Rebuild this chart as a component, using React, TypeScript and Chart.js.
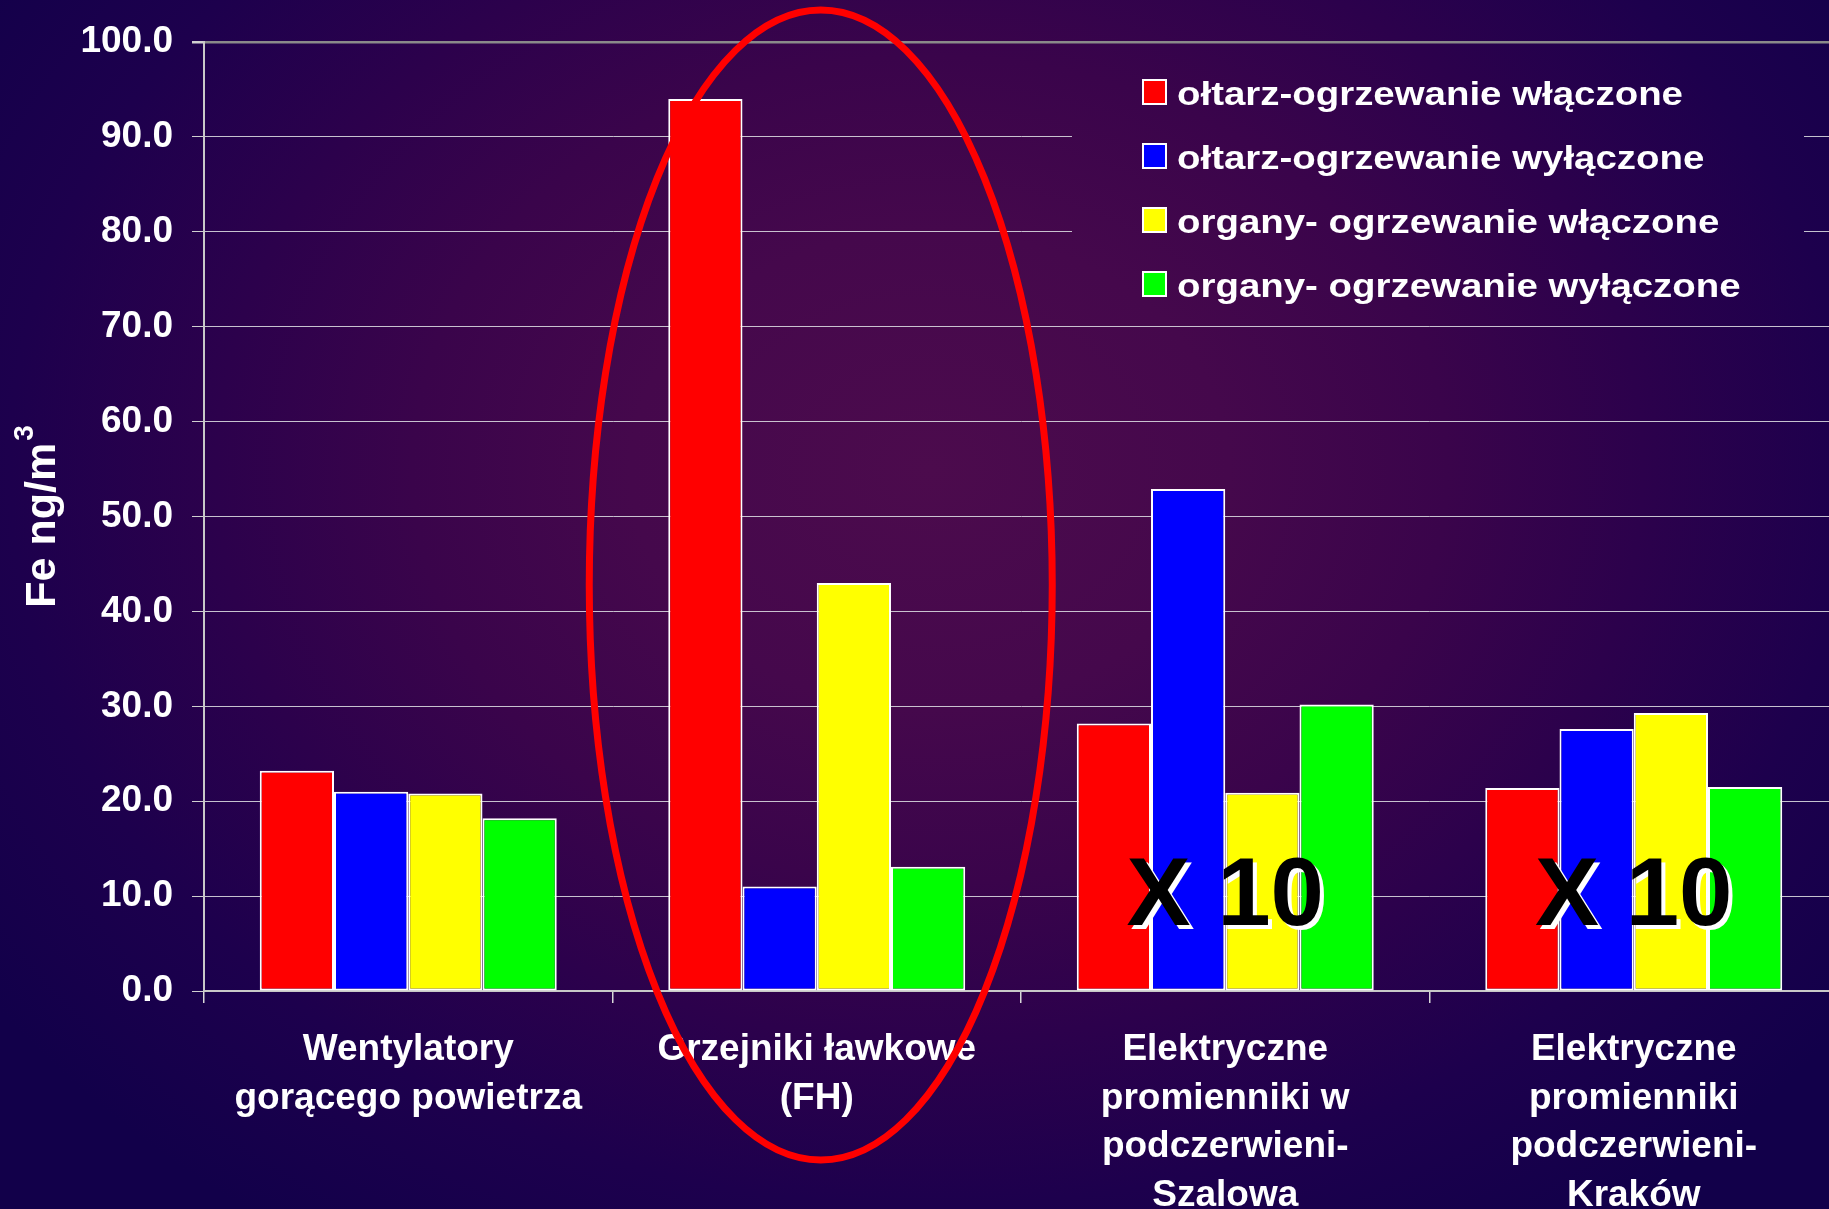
import React, { useEffect, useRef } from 'react';
import { Chart, registerables } from 'chart.js';

Chart.register(...registerables);

// ---------- data ----------
const categories: string[][] = [
  ['Wentylatory', 'gorącego powietrza'],
  ['Grzejniki ławkowe', '(FH)'],
  ['Elektryczne', 'promienniki w', 'podczerwieni-', 'Szalowa'],
  ['Elektryczne', 'promienniki', 'podczerwieni-', 'Kraków'],
];

const seriesNames = [
  'ołtarz-ogrzewanie włączone',
  'ołtarz-ogrzewanie wyłączone',
  'organy- ogrzewanie włączone',
  'organy- ogrzewanie wyłączone',
];

const altarHeatingOn = [23.2, 94.0, 28.2, 21.4];
const altarHeatingOff = [21.0, 11.0, 52.9, 27.6];
const organHeatingOn = [20.8, 43.0, 20.9, 29.3];
const organHeatingOff = [18.2, 13.1, 30.2, 21.5];

const seriesColors = ['#FF0000', '#0000FF', '#FFFF00', '#00FF00'];

const yMin = 0;
const yMax = 100;
const yStep = 10;

const yTitle = 'Fe ng/m';
const yTitleSup = '3';

const multiplierNotes = [
  { index: 2, text: 'X 10' },
  { index: 3, text: 'X 10' },
];
const highlightedCategory = 1;

// ---------- styling ----------
const FONT = '"Liberation Sans", Arial, Helvetica, sans-serif';
const CANVAS_W = 1845;
const CANVAS_H = 1209;

function paintBackground(ctx: CanvasRenderingContext2D, x: number, y: number, w: number, h: number) {
  ctx.save();
  ctx.beginPath();
  ctx.rect(x, y, w, h);
  ctx.clip();
  const cx = 930;
  const cy = 470;
  const rx = 1000;
  const ry = 800;
  ctx.translate(cx, cy);
  ctx.scale(1, ry / rx);
  const R = rx * 1.15;
  const g = ctx.createRadialGradient(0, 0, 0, 0, 0, R);
  g.addColorStop(0, '#4c0b4d');
  g.addColorStop(0.26, '#45084c');
  g.addColorStop(0.45, '#3a044b');
  g.addColorStop(0.62, '#2c014c');
  g.addColorStop(0.8, '#1d004d');
  g.addColorStop(1, '#12004a');
  ctx.fillStyle = g;
  ctx.fillRect(-4000, -4000, 8000, 8000);
  ctx.restore();
}

const backgroundPlugin = {
  id: 'slideBackground',
  beforeDraw(chart: any) {
    paintBackground(chart.ctx, 0, 0, chart.width, chart.height);
  },
};

const overlayPlugin = {
  id: 'slideOverlay',
  afterDraw(chart: any) {
    const ctx: CanvasRenderingContext2D = chart.ctx;
    const xs = chart.scales.x;
    const ys = chart.scales.y;
    const area = chart.chartArea;

    // legend (covers grid lines behind it)
    paintBackground(ctx, 1072, 52, 732, 266);
    const rowStart = 92;
    const rowGap = 64;
    chart.data.datasets.forEach((ds: any, i: number) => {
      const cy = rowStart + i * rowGap;
      ctx.save();
      ctx.fillStyle = ds.backgroundColor;
      ctx.fillRect(1142, cy - 13, 25, 26);
      ctx.strokeStyle = '#ffffff';
      ctx.lineWidth = 2;
      ctx.strokeRect(1143, cy - 12, 23, 24);
      ctx.translate(1177, cy + 13);
      ctx.scale(1.13, 1);
      ctx.font = `bold 34px ${FONT}`;
      ctx.fillStyle = '#ffffff';
      ctx.textAlign = 'left';
      ctx.textBaseline = 'alphabetic';
      ctx.fillText(ds.label, 0, 0);
      ctx.restore();
    });

    // category labels
    ctx.save();
    ctx.font = `bold 37px ${FONT}`;
    ctx.fillStyle = '#ffffff';
    ctx.textAlign = 'center';
    ctx.textBaseline = 'alphabetic';
    categories.forEach((lines, i) => {
      const x = xs.getPixelForValue(i);
      lines.forEach((line, j) => {
        ctx.fillText(line, x, area.bottom + 69 + j * 48.5);
      });
    });
    ctx.restore();

    // y axis title with superscript
    ctx.save();
    ctx.translate(55, (area.top + area.bottom) / 2);
    ctx.rotate(-Math.PI / 2);
    ctx.fillStyle = '#ffffff';
    ctx.textAlign = 'left';
    ctx.textBaseline = 'alphabetic';
    ctx.font = `bold 43px ${FONT}`;
    const w1 = ctx.measureText(yTitle).width;
    ctx.font = `bold 28px ${FONT}`;
    const w2 = ctx.measureText(yTitleSup).width;
    const start = -(w1 + 2 + w2) / 2;
    ctx.font = `bold 43px ${FONT}`;
    ctx.fillText(yTitle, start, 0);
    ctx.font = `bold 28px ${FONT}`;
    ctx.fillText(yTitleSup, start + w1 + 2, -22);
    ctx.restore();

    // "X 10" notes
    ctx.save();
    ctx.font = `bold 96px ${FONT}`;
    ctx.textAlign = 'center';
    ctx.textBaseline = 'alphabetic';
    multiplierNotes.forEach((n) => {
      const x = xs.getPixelForValue(n.index);
      const y = ys.getPixelForValue(7.0);
      ctx.fillStyle = '#ffffff';
      ctx.fillText(n.text, x + 4, y + 4);
      ctx.fillStyle = '#000000';
      ctx.fillText(n.text, x, y);
    });
    ctx.restore();

    // red ellipse around highlighted category
    ctx.save();
    const ex = xs.getPixelForValue(highlightedCategory) + 4;
    ctx.strokeStyle = '#FF0000';
    ctx.lineWidth = 7;
    ctx.beginPath();
    ctx.ellipse(ex, 585, 231.5, 575, 0, 0, Math.PI * 2);
    ctx.stroke();
    ctx.restore();
  },
};

export default function App() {
  const canvasRef = useRef<HTMLCanvasElement | null>(null);

  useEffect(() => {
    const canvas = canvasRef.current;
    if (!canvas) return;
    const seriesValues = [altarHeatingOn, altarHeatingOff, organHeatingOn, organHeatingOff];
    const chart = new Chart(canvas, {
      type: 'bar',
      data: {
        labels: categories,
        datasets: seriesValues.map((values, i) => ({
          label: seriesNames[i],
          data: values,
          backgroundColor: seriesColors[i],
          borderColor: '#ffffff',
          borderWidth: 2,
          borderSkipped: false,
          categoryPercentage: 0.727,
          barPercentage: 1.0,
        })),
      },
      options: {
        responsive: false,
        animation: false,
        devicePixelRatio: 1,
        layout: { padding: { top: 42, left: 0, right: 7, bottom: 0 } },
        plugins: {
          legend: { display: false },
          tooltip: { enabled: false },
          title: { display: false },
        },
        scales: {
          x: {
            type: 'category',
            offset: true,
            grid: {
              offset: true,
              drawOnChartArea: false,
              drawTicks: true,
              tickLength: 12,
              color: '#d8d8d8',
              lineWidth: 1.5,
            },
            border: { color: '#c8c8c8', width: 2 },
            ticks: { display: false },
            afterFit: (scale: any) => {
              scale.height = 218;
            },
          },
          y: {
            min: yMin,
            max: yMax,
            grid: {
              color: (c: any) => (c.tick && c.tick.value === yMax ? '#8a8a8a' : 'rgba(215,215,222,0.9)'),
              lineWidth: (c: any) => (c.tick && c.tick.value === yMax ? 2.5 : 1),
              tickColor: '#d0d0d0',
              tickLength: 12,
              drawTicks: true,
            },
            border: { color: '#c8c8c8', width: 2 },
            ticks: {
              stepSize: yStep,
              color: '#ffffff',
              padding: 19,
              font: { family: FONT, size: 37, weight: 'bold' },
              callback: (v: any) => Number(v).toFixed(1),
            },
            afterFit: (scale: any) => {
              scale.width = 204;
            },
          },
        },
      },
      plugins: [backgroundPlugin, overlayPlugin],
    } as any);
    return () => chart.destroy();
  }, []);

  return (
    <div
      style={{
        position: 'fixed',
        left: 0,
        top: 0,
        width: 1829,
        height: 1209,
        overflow: 'hidden',
        background: '#14004a',
      }}
    >
      <canvas
        ref={canvasRef}
        width={CANVAS_W}
        height={CANVAS_H}
        style={{ display: 'block', width: CANVAS_W, height: CANVAS_H }}
      />
    </div>
  );
}
